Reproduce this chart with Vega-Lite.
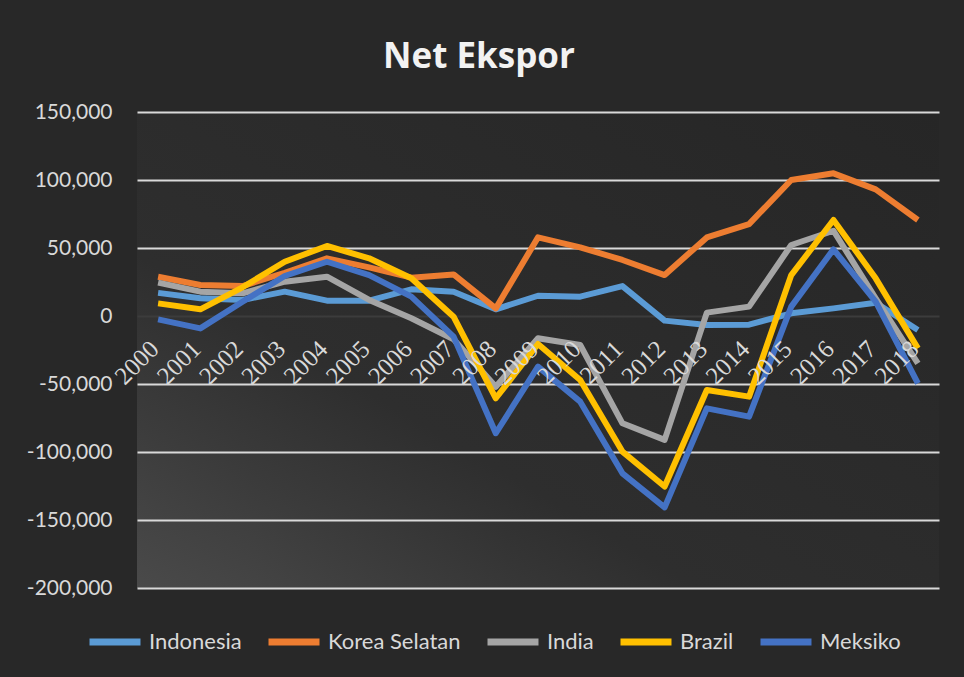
{
  "$schema": "https://vega.github.io/schema/vega-lite/v6.json",
  "width": 802,
  "height": 476,
  "autosize": {"type": "none"},
  "padding": {"left": 137, "top": 112, "right": 25, "bottom": 89},
  "background": "#282828",
  "title": {"text": "Net Ekspor", "font": "Open Sans", "fontSize": 35, "fontWeight": "bold", "color": "#f2f2f2", "anchor": "middle", "baseline": "alphabetic", "offset": 33, "dx": -59, "dy": 35},
  "datasets": {
    "rows": [
      {"year": "2000", "series": "Indonesia", "value": 17000},
      {"year": "2001", "series": "Indonesia", "value": 13000},
      {"year": "2002", "series": "Indonesia", "value": 11800},
      {"year": "2003", "series": "Indonesia", "value": 17900},
      {"year": "2004", "series": "Indonesia", "value": 11300},
      {"year": "2005", "series": "Indonesia", "value": 11300},
      {"year": "2006", "series": "Indonesia", "value": 19600},
      {"year": "2007", "series": "Indonesia", "value": 17900},
      {"year": "2008", "series": "Indonesia", "value": 4900},
      {"year": "2009", "series": "Indonesia", "value": 14900},
      {"year": "2010", "series": "Indonesia", "value": 14200},
      {"year": "2011", "series": "Indonesia", "value": 22000},
      {"year": "2012", "series": "Indonesia", "value": -3400},
      {"year": "2013", "series": "Indonesia", "value": -6600},
      {"year": "2014", "series": "Indonesia", "value": -6400},
      {"year": "2015", "series": "Indonesia", "value": 2000},
      {"year": "2016", "series": "Indonesia", "value": 5600},
      {"year": "2017", "series": "Indonesia", "value": 9800},
      {"year": "2018", "series": "Indonesia", "value": -10300},
      {"year": "2000", "series": "Korea Selatan", "value": 28900},
      {"year": "2001", "series": "Korea Selatan", "value": 22800},
      {"year": "2002", "series": "Korea Selatan", "value": 22000},
      {"year": "2003", "series": "Korea Selatan", "value": 31800},
      {"year": "2004", "series": "Korea Selatan", "value": 42400},
      {"year": "2005", "series": "Korea Selatan", "value": 35800},
      {"year": "2006", "series": "Korea Selatan", "value": 28200},
      {"year": "2007", "series": "Korea Selatan", "value": 30600},
      {"year": "2008", "series": "Korea Selatan", "value": 5600},
      {"year": "2009", "series": "Korea Selatan", "value": 57800},
      {"year": "2010", "series": "Korea Selatan", "value": 50500},
      {"year": "2011", "series": "Korea Selatan", "value": 41200},
      {"year": "2012", "series": "Korea Selatan", "value": 30100},
      {"year": "2013", "series": "Korea Selatan", "value": 57800},
      {"year": "2014", "series": "Korea Selatan", "value": 67600},
      {"year": "2015", "series": "Korea Selatan", "value": 100000},
      {"year": "2016", "series": "Korea Selatan", "value": 104900},
      {"year": "2017", "series": "Korea Selatan", "value": 93100},
      {"year": "2018", "series": "Korea Selatan", "value": 70600},
      {"year": "2000", "series": "India", "value": 24500},
      {"year": "2001", "series": "India", "value": 17900},
      {"year": "2002", "series": "India", "value": 16700},
      {"year": "2003", "series": "India", "value": 25200},
      {"year": "2004", "series": "India", "value": 28900},
      {"year": "2005", "series": "India", "value": 11800},
      {"year": "2006", "series": "India", "value": -1700},
      {"year": "2007", "series": "India", "value": -17100},
      {"year": "2008", "series": "India", "value": -52000},
      {"year": "2009", "series": "India", "value": -16400},
      {"year": "2010", "series": "India", "value": -21300},
      {"year": "2011", "series": "India", "value": -78900},
      {"year": "2012", "series": "India", "value": -91100},
      {"year": "2013", "series": "India", "value": 2500},
      {"year": "2014", "series": "India", "value": 6900},
      {"year": "2015", "series": "India", "value": 52200},
      {"year": "2016", "series": "India", "value": 62700},
      {"year": "2017", "series": "India", "value": 13000},
      {"year": "2018", "series": "India", "value": -34800},
      {"year": "2000", "series": "Brazil", "value": 9300},
      {"year": "2001", "series": "Brazil", "value": 4900},
      {"year": "2002", "series": "Brazil", "value": 21100},
      {"year": "2003", "series": "Brazil", "value": 39900},
      {"year": "2004", "series": "Brazil", "value": 51500},
      {"year": "2005", "series": "Brazil", "value": 42400},
      {"year": "2006", "series": "Brazil", "value": 27700},
      {"year": "2007", "series": "Brazil", "value": -500},
      {"year": "2008", "series": "Brazil", "value": -60500},
      {"year": "2009", "series": "Brazil", "value": -20600},
      {"year": "2010", "series": "Brazil", "value": -47000},
      {"year": "2011", "series": "Brazil", "value": -99700},
      {"year": "2012", "series": "Brazil", "value": -125400},
      {"year": "2013", "series": "Brazil", "value": -54400},
      {"year": "2014", "series": "Brazil", "value": -59300},
      {"year": "2015", "series": "Brazil", "value": 30100},
      {"year": "2016", "series": "Brazil", "value": 70600},
      {"year": "2017", "series": "Brazil", "value": 27700},
      {"year": "2018", "series": "Brazil", "value": -23800},
      {"year": "2000", "series": "Meksiko", "value": -2500},
      {"year": "2001", "series": "Meksiko", "value": -9100},
      {"year": "2002", "series": "Meksiko", "value": 10500},
      {"year": "2003", "series": "Meksiko", "value": 29400},
      {"year": "2004", "series": "Meksiko", "value": 39900},
      {"year": "2005", "series": "Meksiko", "value": 30100},
      {"year": "2006", "series": "Meksiko", "value": 14200},
      {"year": "2007", "series": "Meksiko", "value": -15200},
      {"year": "2008", "series": "Meksiko", "value": -86200},
      {"year": "2009", "series": "Meksiko", "value": -37200},
      {"year": "2010", "series": "Meksiko", "value": -63000},
      {"year": "2011", "series": "Meksiko", "value": -115700},
      {"year": "2012", "series": "Meksiko", "value": -140700},
      {"year": "2013", "series": "Meksiko", "value": -67900},
      {"year": "2014", "series": "Meksiko", "value": -74000},
      {"year": "2015", "series": "Meksiko", "value": 6900},
      {"year": "2016", "series": "Meksiko", "value": 49000},
      {"year": "2017", "series": "Meksiko", "value": 10500},
      {"year": "2018", "series": "Meksiko", "value": -49500}
    ]
  },
  "data": {"name": "rows"},
  "layer": [
    {
      "mark": {"type": "line", "strokeWidth": 6, "strokeJoin": "round", "strokeCap": "butt"},
      "encoding": {
        "x": {"field": "year", "type": "ordinal", "scale": {"type": "point", "padding": 0.5}, "axis": null},
        "y": {
          "field": "value", "type": "quantitative",
          "scale": {"domain": [-200000, 150000], "nice": false, "zero": false},
          "axis": {
            "values": [-200000, -150000, -100000, -50000, 0, 50000, 100000, 150000],
            "labelExpr": "replace(format(datum.value, ','), '−', '-')",
            "grid": true,
            "gridColor": {"condition": {"test": "datum.value === 0", "value": "#3c3c3c"}, "value": "#d9d9d9"},
            "gridWidth": 2,
            "domain": false,
            "ticks": false,
            "labelPadding": 25,
            "labelFont": "Lato",
            "labelFontSize": 21,
            "labelColor": "#d9d9d9",
            "title": null
          }
        },
        "color": {
          "field": "series", "type": "nominal",
          "scale": {"domain": ["Indonesia", "Korea Selatan", "India", "Brazil", "Meksiko"], "range": ["#5b9bd5", "#ed7d31", "#a5a5a5", "#ffc000", "#4472c4"]},
          "legend": {
            "title": null,
            "orient": "none",
            "direction": "horizontal",
            "columns": 5,
            "legendX": -51,
            "legendY": 501,
            "padding": 0,
            "symbolType": "stroke",
            "symbolSize": 2600,
            "symbolStrokeWidth": 7,
            "labelOffset": 5,
            "columnPadding": 12,
            "labelFont": "Lato",
            "labelFontSize": 22,
            "labelColor": "#d9d9d9",
            "labelLimit": 300
          }
        }
      }
    },
    {
      "transform": [{"filter": "datum.series === 'Indonesia'"}],
      "mark": {"type": "text", "angle": 315, "align": "right", "baseline": "middle", "font": "Liberation Serif", "fontSize": 25, "color": "#d9d9d9", "dx": -23, "dy": 18},
      "encoding": {
        "x": {"field": "year", "type": "ordinal"},
        "y": {"datum": 0, "type": "quantitative"},
        "text": {"field": "year"}
      }
    }
  ],
  "config": {
    "view": {
      "stroke": null,
      "fill": {"gradient": "linear", "x1": 0, "y1": 1, "x2": 1, "y2": 0, "stops": [{"offset": 0, "color": "#4a4a4a"}, {"offset": 0.35, "color": "#2e2e2e"}, {"offset": 1, "color": "#262626"}]}
    }
  }
}
